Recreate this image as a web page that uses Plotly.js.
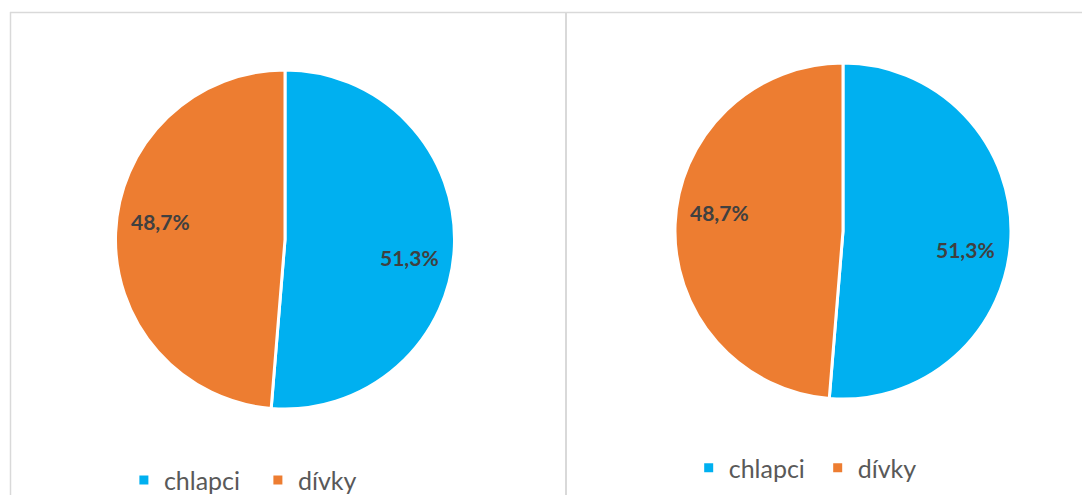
<!DOCTYPE html>
<html>
<head>
<meta charset="utf-8">
<script src="https://cdn.plot.ly/plotly-3.0.1.min.js"></script>
<style>
html,body{margin:0;padding:0;background:#fff;}
#chart{width:1082px;height:495px;}
</style>
</head>
<body>
<div id="chart"></div>
<script>
const categories = ["chlapci", "dívky"];
const valuesLeft = [51.3, 48.7];
const valuesRight = [51.3, 48.7];
const colors = ["#00B0F0", "#ED7D31"];

const W = 1082, H = 495;
const domains = [
  {x: [0.1067, 0.4201], y: [0.1737, 0.8586]},
  {x: [0.6238, 0.9344], y: [0.1939, 0.8727]}
];

const common = {
  type: "pie",
  labels: categories,
  sort: false,
  direction: "clockwise",
  rotation: 0,
  marker: {colors: colors, line: {color: "#FFFFFF", width: 3}},
  textinfo: "none",
  hoverinfo: "label+percent"
};

const data = [
  Object.assign({}, common, {values: valuesLeft, domain: domains[0], legend: "legend"}),
  Object.assign({}, common, {values: valuesRight, domain: domains[1], legend: "legend2", legendgroup: "right"})
];

// data labels placed along each slice's mid-angle
const labelFont = {family: "Lato, 'Open Sans', sans-serif", size: 21, color: "#404040", weight: "bold"};
const annotations = [];
[valuesLeft, valuesRight].forEach((vals, k) => {
  const d = domains[k];
  const cx = (d.x[0] + d.x[1]) / 2, cy = (d.y[0] + d.y[1]) / 2;
  const rPx = Math.min((d.x[1] - d.x[0]) * W, (d.y[1] - d.y[0]) * H) / 2;
  const total = vals.reduce((a, b) => a + b, 0);
  let cum = 0;
  vals.forEach(v => {
    const mid = (cum + v / 2) / total * 2 * Math.PI + 6 * Math.PI / 180;
    cum += v;
    const f = 0.74;
    annotations.push({
      xref: "paper", yref: "paper",
      x: cx + f * rPx * Math.sin(mid) / W,
      y: cy + f * rPx * Math.cos(mid) / H,
      text: (v / total * 100).toFixed(1).replace(".", ",") + "%",
      showarrow: false, font: labelFont, xanchor: "center", yanchor: "middle"
    });
  });
});

const legendFont = {family: "Lato, 'Open Sans', sans-serif", size: 25, color: "#595959"};
const layout = {
  width: W,
  height: H,
  margin: {l: 0, r: 0, t: 0, b: 0, autoexpand: false},
  paper_bgcolor: "#FFFFFF",
  separators: ", ",
  showlegend: true,
  legend: {orientation: "h", x: 0.1145, y: 0.030, xanchor: "left", yanchor: "middle",
           font: legendFont, bgcolor: "rgba(0,0,0,0)", traceorder: "normal",
           entrywidth: 89, entrywidthmode: "pixels"},
  legend2: {orientation: "h", x: 0.6365, y: 0.0545, xanchor: "left", yanchor: "middle",
           font: legendFont, bgcolor: "rgba(0,0,0,0)", traceorder: "normal",
           entrywidth: 84, entrywidthmode: "pixels", visible: true},
  annotations: annotations,
  shapes: [
    {type: "line", xref: "paper", yref: "paper", x0: 10/W, x1: 1, y0: 1 - 12.5/H, y1: 1 - 12.5/H,
     line: {color: "#D9D9D9", width: 1.5}},
    {type: "line", xref: "paper", yref: "paper", x0: 10.5/W, x1: 10.5/W, y0: 0, y1: 1 - 12/H,
     line: {color: "#D9D9D9", width: 1.5}},
    {type: "line", xref: "paper", yref: "paper", x0: 566/W, x1: 566/W, y0: 0, y1: 1 - 12/H,
     line: {color: "#D9D9D9", width: 2}}
  ]
};

Plotly.newPlot("chart", data, layout, {displayModeBar: false, staticPlot: true});
</script>
</body>
</html>
